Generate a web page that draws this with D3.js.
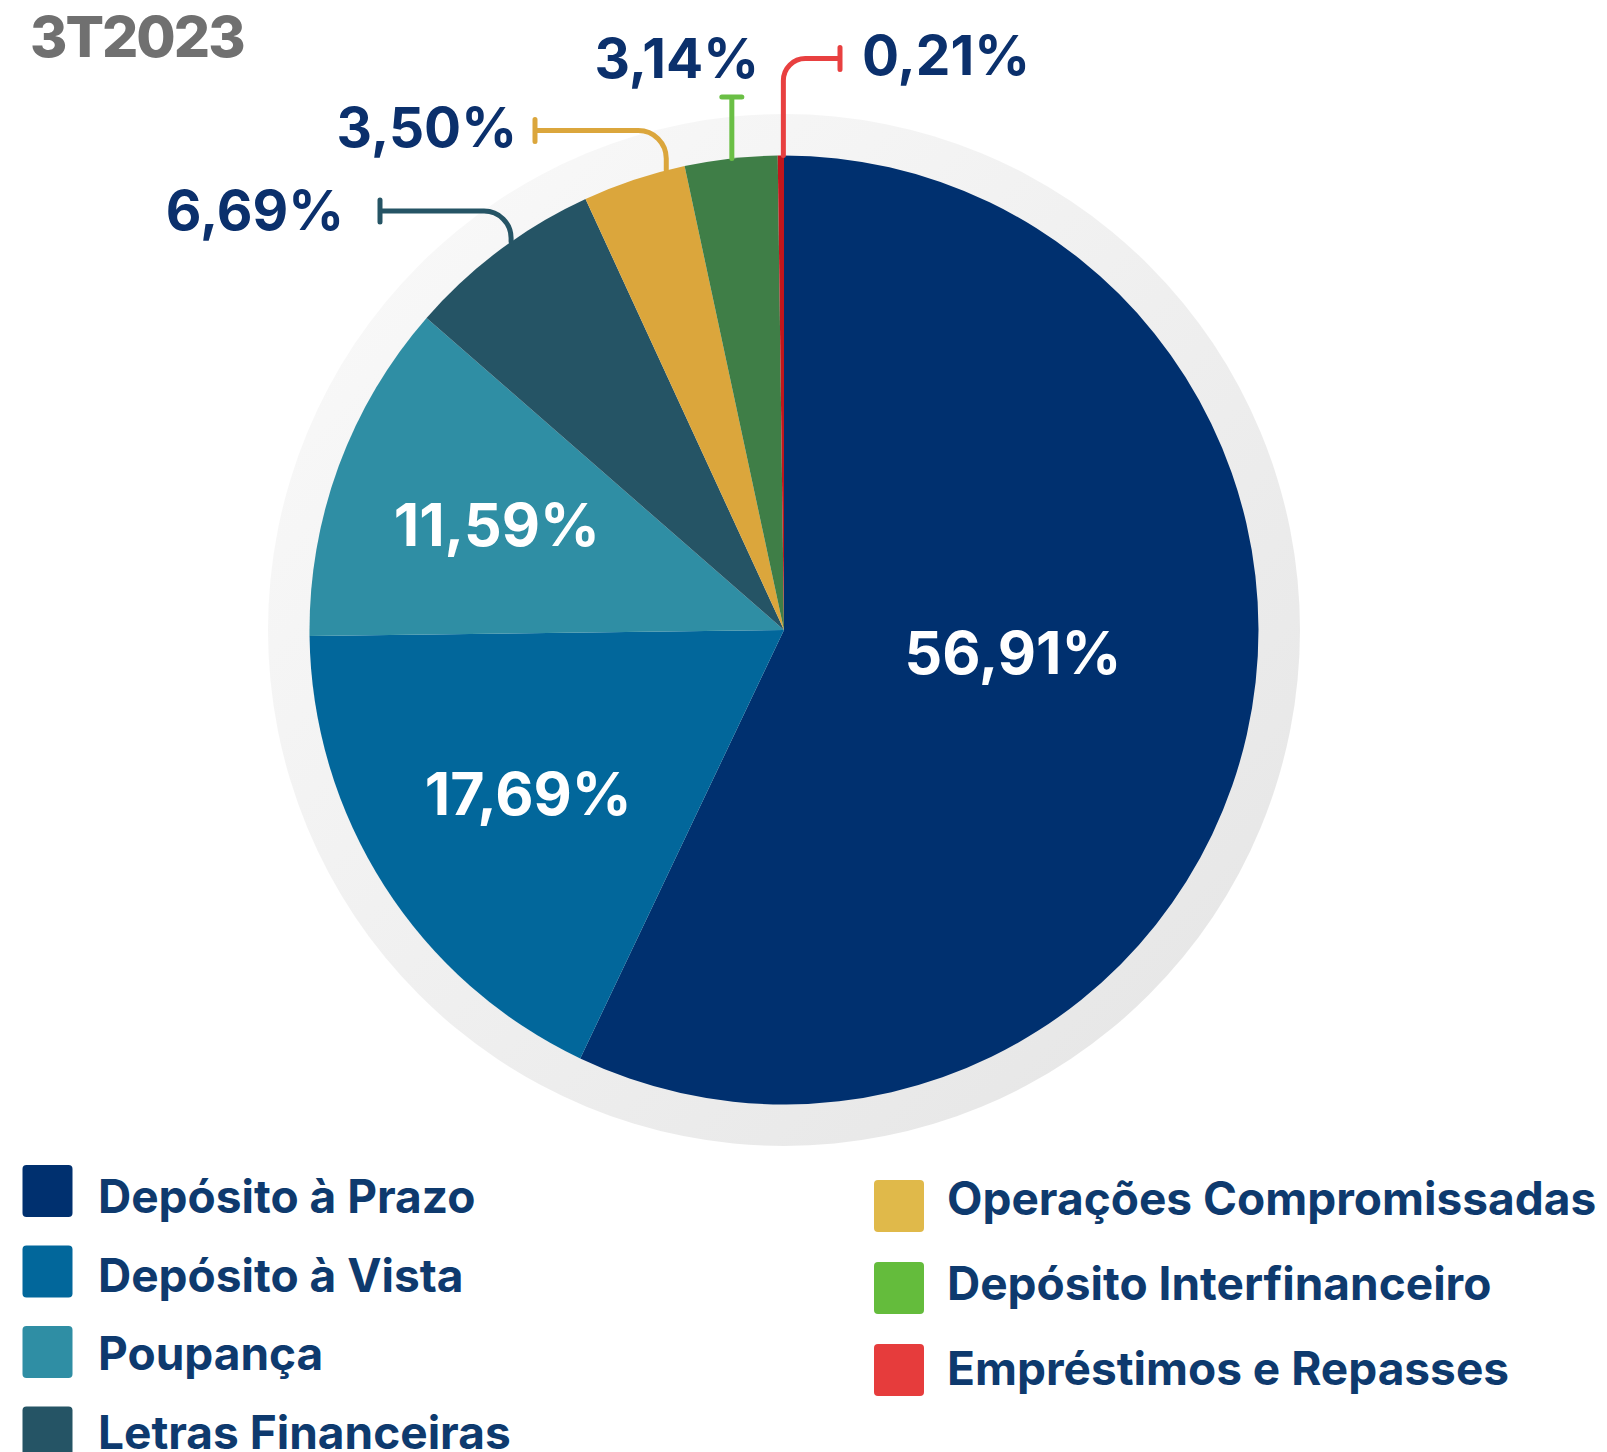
<!DOCTYPE html>
<html>
<head>
<meta charset="UTF-8">
<title>3T2023</title>
<style>
    body { margin: 0; background: #ffffff; }
    #chart { width: 1607px; height: 1452px; overflow: hidden; }
    text { font-family: Inter, "Open Sans", sans-serif; }
</style>
<script src="https://d3js.org/d3.v7.min.js"></script>
</head>
<body>
<div id="chart"></div>
<script>
// data
const period = "3T2023";
const categories = [
    "Depósito à Prazo",
    "Depósito à Vista",
    "Poupança",
    "Letras Financeiras",
    "Operações Compromissadas",
    "Depósito Interfinanceiro",
    "Empréstimos e Repasses"
];
const shares = [56.91, 17.69, 11.59, 6.69, 3.50, 3.14, 0.21];

// colours
const sliceColors  = ["#00306f", "#02679b", "#2f8ea4", "#255465", "#dba63c", "#3f7e47", "#c1161c"];
const keyColors    = ["#00306f", "#02679b", "#2f8ea4", "#255465", "#e0b94a", "#64bc3c", "#e63c3c"];
const leaderColors = ["#00306f", "#02679b", "#2f8ea4", "#255465", "#dba63c", "#6abf45", "#e84040"];

const W = 1607, H = 1452;
const cx = 784, cy = 630, R = 474.5, ringR = 516;

const pct = v => d3.format(".2f")(v).replace(".", ",") + "%";

const svg = d3.select("#chart").append("svg")
    .attr("width", W)
    .attr("height", H);

const defs = svg.append("defs");
const grad = defs.append("linearGradient")
    .attr("id", "ring")
    .attr("x1", "0%").attr("y1", "0%")
    .attr("x2", "100%").attr("y2", "100%");
grad.append("stop").attr("offset", "0%").attr("stop-color", "#fbfbfb");
grad.append("stop").attr("offset", "100%").attr("stop-color", "#e4e4e4");

// title
svg.append("text")
    .attr("x", 30)
    .attr("y", 57)
    .attr("fill", "#707070")
    .attr("font-size", 57)
    .attr("font-weight", 800)
    .attr("letter-spacing", -2)
    .text(period);

const g = svg.append("g").attr("transform", `translate(${cx},${cy})`);

g.append("circle").attr("r", ringR).attr("fill", "url(#ring)");

const pie = d3.pie().sort(null).value(d => d);
const arcs = pie(shares);
const arc = d3.arc().innerRadius(0).outerRadius(R);

g.selectAll("path.slice")
    .data(arcs)
    .join("path")
    .attr("class", "slice")
    .attr("d", arc)
    .attr("fill", (d, i) => sliceColors[i]);

// labels inside the big slices
const innerLayout = {
    0: { r: 0.485, da: -7 },
    1: { r: 0.64, da: 0 },
    2: { r: 0.645, da: 0 }
};
Object.keys(innerLayout).forEach(k => {
    const d = arcs[+k], L = innerLayout[k];
    const a = (d.startAngle + d.endAngle) / 2 + L.da * Math.PI / 180;
    const rr = R * L.r;
    g.append("text")
        .attr("x", rr * Math.sin(a))
        .attr("y", -rr * Math.cos(a))
        .attr("dy", "0.36em")
        .attr("text-anchor", "middle")
        .attr("fill", "#ffffff")
        .attr("font-size", 59)
        .attr("font-weight", 700)
        .text(pct(shares[+k]));
});

// call-outs for the thin slices
const callouts = {
    3: { t: 0.57, kind: "left",  lineY: 211,   teeX: 380, rad: 27, tx: 344, ty: 230, anchor: "end" },
    4: { t: 0.82, kind: "left",  lineY: 130.5, teeX: 535, rad: 28, tx: 517, ty: 147, anchor: "end" },
    5: { t: 0.51, kind: "up",    lineY: 97,                        tx: 759, ty: 78,  anchor: "end" },
    6: { t: 0.9,  kind: "right", lineY: 58.5,  teeX: 840, rad: 22, tx: 862, ty: 75,  anchor: "start" }
};
const lines = svg.append("g")
    .attr("fill", "none")
    .attr("stroke-width", 5)
    .attr("stroke-linecap", "round");

Object.keys(callouts).forEach(k => {
    const d = arcs[+k], c = callouts[k];
    const a = d.startAngle + c.t * (d.endAngle - d.startAngle);
    const ax = cx + R * Math.sin(a), ay = cy - R * Math.cos(a);
    const col = leaderColors[+k];
    let p;
    if (c.kind === "left") {
        p = `M${ax},${ay}L${ax},${c.lineY + c.rad}A${c.rad},${c.rad} 0 0 0 ${ax - c.rad},${c.lineY}L${c.teeX},${c.lineY}` +
            `M${c.teeX},${c.lineY - 11}L${c.teeX},${c.lineY + 11}`;
    } else if (c.kind === "right") {
        p = `M${ax},${ay}L${ax},${c.lineY + c.rad}A${c.rad},${c.rad} 0 0 1 ${ax + c.rad},${c.lineY}L${c.teeX},${c.lineY}` +
            `M${c.teeX},${c.lineY - 11}L${c.teeX},${c.lineY + 11}`;
    } else {
        p = `M${ax},${ay}L${ax},${c.lineY}M${ax - 10},${c.lineY}L${ax + 10},${c.lineY}`;
    }
    lines.append("path").attr("d", p).attr("stroke", col);

    svg.append("text")
        .attr("x", c.tx)
        .attr("y", c.ty)
        .attr("text-anchor", c.anchor)
        .attr("fill", "#0b306c")
        .attr("font-size", 55)
        .attr("font-weight", 700)
        .text(pct(shares[+k]));
});

// legend
const legend = svg.append("g");
categories.forEach((name, i) => {
    const left = i < 4;
    const row = left ? i : i - 4;
    const top = left ? 1165 + row * 80.5 : 1180 + row * 82;
    const base = left ? 1213 + row * 78.5 : 1215 + row * 85;
    const x = left ? 22.5 : 874;
    const item = legend.append("g");
    item.append("rect")
        .attr("x", x).attr("y", top)
        .attr("width", 50).attr("height", 52)
        .attr("rx", 4)
        .attr("fill", keyColors[i]);
    item.append("text")
        .attr("x", left ? 98 : 947)
        .attr("y", base)
        .attr("fill", "#0e3a6e")
        .attr("font-size", 46)
        .attr("font-weight", 700)
        .text(name);
});
</script>
</body>
</html>
